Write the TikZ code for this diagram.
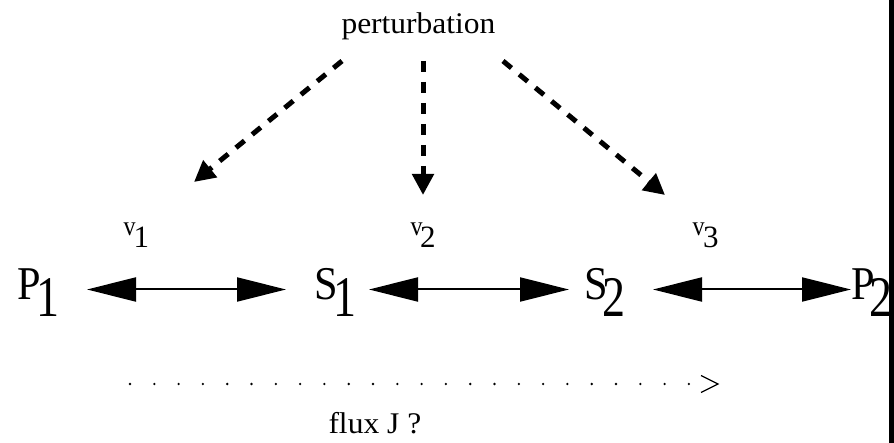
\documentclass[tikz,border=0pt]{standalone}
\usepackage{fontspec}
\usepackage{graphicx}
\setmainfont{Liberation Serif}
\usetikzlibrary{arrows.meta,calc}
\begin{document}
\begin{tikzpicture}[x=1pt,y=-1pt,
  txt/.style={inner sep=0pt,outer sep=0pt,anchor=base west},
  big/.style={txt,font=\fontsize{47}{50}\selectfont},
  bigsub/.style={txt,font=\fontsize{46}{50}\selectfont},
  vlet/.style={txt,font=\fontsize{24}{26}\selectfont},
  vsub/.style={txt,font=\fontsize{31}{33}\selectfont},
  small/.style={txt,font=\fontsize{30}{32}\selectfont},
  rxn/.style={line width=2pt,{Triangle[length=49pt,width=24pt]}-{Triangle[length=49pt,width=24pt]}},
  pert/.style={line width=5pt,dash pattern=on 11pt off 10pt,-{Triangle[length=21pt,width=21pt]}},
  fluxdots/.style={line width=2.6pt,line cap=round,dash pattern=on 0pt off 24.3pt},
  chev/.style={line width=1.3pt}
]
\useasboundingbox (0,0) rectangle (894,443);
\fill[white] (0,0) rectangle (894,443);
% right edge bar
\fill[black] (889,0) rectangle (894,443);

% species
\node[big] (P1) at (17.5,300) {\scalebox{0.9}[1]{P}};
\node[bigsub] (P1s) at (36,317) {\scalebox{1}[1.25]{1}};
\node[big] (S1) at (314.5,300) {\scalebox{0.9}[1]{S}};
\node[bigsub] (S1s) at (333,317) {\scalebox{1}[1.25]{1}};
\node[big] (S2) at (584.5,300) {\scalebox{0.9}[1]{S}};
\node[bigsub] (S2s) at (602,317) {\scalebox{1}[1.25]{2}};
\node[big] (P2) at (851,300) {\scalebox{0.9}[1]{P}};
\node[bigsub] (P2s) at (869,317) {\scalebox{1}[1.25]{2}};

% rate labels
\node[vlet] (v1) at (123.5,236) {\scalebox{1}[1.15]{v}};
\node[vsub] (v1s) at (133.5,248) {1};
\node[vlet] (v2) at (410.5,236) {\scalebox{1}[1.15]{v}};
\node[vsub] (v2s) at (420,248) {2};
\node[vlet] (v3) at (692.5,236) {\scalebox{1}[1.15]{v}};
\node[vsub] (v3s) at (703,248) {3};

% perturbation / flux texts
\node[small] (pert) at (341.5,34) {\scalebox{1.05}[1]{perturbation}};
\node[small] (flux) at (328.5,433) {\scalebox{1.05}[1]{flux J ?}};

% reaction arrows
\coordinate (r1a) at (87,289.5);
\coordinate (r1b) at (286,289.5);
\coordinate (r2a) at (369,289.5);
\coordinate (r2b) at (569,289.5);
\coordinate (r3a) at (653,289.5);
\coordinate (r3b) at (851,289.5);
\draw[rxn] (r1a) -- (r1b);
\draw[rxn] (r2a) -- (r2b);
\draw[rxn] (r3a) -- (r3b);

% perturbation arrows
\coordinate (p1a) at (342,61);
\coordinate (p1b) at (194,182);
\coordinate (p2a) at (423,61);
\coordinate (p2b) at (423,195);
\coordinate (p3a) at (503,61);
\coordinate (p3b) at (665,195);
\draw[pert] (p1a) -- (p1b);
\draw[pert] (p2a) -- (p2b);
\draw[pert] (p3a) -- (p3b);

% flux dotted arrow
\coordinate (fa) at (130,384);
\coordinate (fb) at (690,384);
\draw[fluxdots] (fa) -- (fb);
\coordinate (ftip) at (718,384);
\coordinate (fc1) at ($(ftip)+(-17,-8.5)$);
\coordinate (fc2) at ($(ftip)+(-17,8.5)$);
\draw[chev] (fc1) -- (ftip) -- (fc2);
\end{tikzpicture}
\end{document}
